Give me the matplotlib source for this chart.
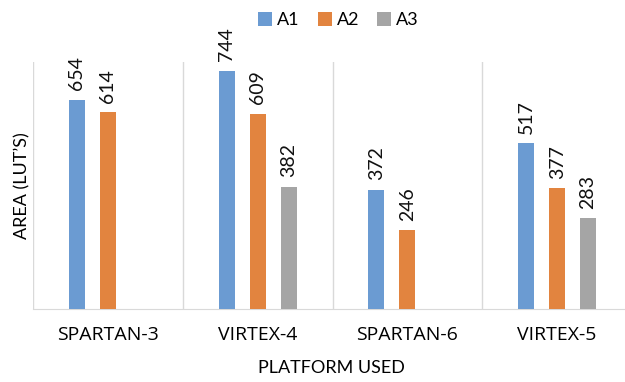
import matplotlib
matplotlib.use('Agg')
import matplotlib.pyplot as plt
import numpy as np

plt.rcParams['font.family'] = ['Lato', 'DejaVu Sans']

# data
platforms = ['SPARTAN-3', 'VIRTEX-4', 'SPARTAN-6', 'VIRTEX-5']
series = ['A1', 'A2', 'A3']
a1 = [654, 744, 372, 517]
a2 = [614, 609, 246, 377]
a3 = [None, 382, None, 283]

colors = ['#6B9BD2', '#E2843F', '#A5A5A5']
grid_col = '#D9D9D9'

fig = plt.figure(figsize=(6.25, 3.82), dpi=100)
ax = fig.add_axes([0.0528, 0.191, 0.9584, 0.6466])

x = np.arange(len(platforms))
bw = 0.107
step = 0.207

for i, (vals, name) in enumerate(zip([a1, a2, a3], series)):
    xs = [xx + (i - 1) * step for xx, v in zip(x, vals) if v is not None]
    vs = [v for v in vals if v is not None]
    bars = ax.bar(xs, vs, width=bw, color=colors[i], label=name, zorder=3)
    for b, v in zip(bars, vs):
        ax.annotate(str(v), (b.get_x() + b.get_width() / 2, v),
                    xytext=(0, 7), textcoords='offset points',
                    rotation=90, ha='center', va='bottom',
                    fontsize=14, color='#111111')

# category separators
for sx in np.arange(-0.5, len(platforms) + 0.5, 1.0):
    ax.axvline(sx, color=grid_col, lw=1, zorder=1)

ax.set_xlim(-0.5, len(platforms) - 0.5)
ax.set_ylim(0, 771)
ax.set_yticks([])
ax.set_xticks(x)
ax.set_xticklabels(platforms, fontsize=14, family=['Open Sans', 'DejaVu Sans'])
ax.tick_params(axis='x', length=0, pad=12)
for s in ['top', 'right', 'left']:
    ax.spines[s].set_visible(False)
ax.spines['bottom'].set_color(grid_col)

ax.set_ylabel("AREA (LUT\u2019S)", fontsize=13, labelpad=2)
fig.text(0.531, 0.037, 'PLATFORM USED', ha='center', va='center', fontsize=13)

fig.legend(loc='center', bbox_to_anchor=(0.542, 0.947), ncol=3, frameon=False,
           fontsize=13, handlelength=0.75, handleheight=0.75,
           handletextpad=0.3, columnspacing=1.0)

fig.savefig('out.png', dpi=100)
